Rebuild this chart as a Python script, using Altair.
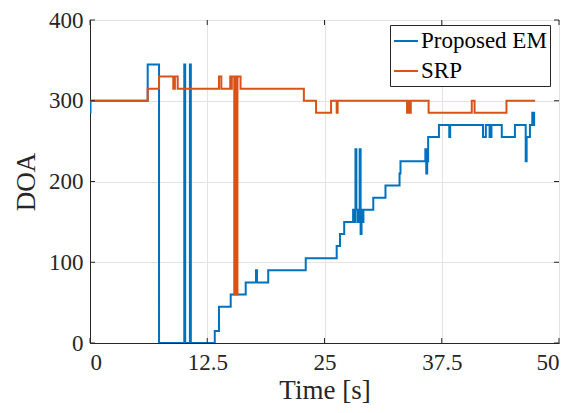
import altair as alt
import pandas as pd

series_names = ["Proposed EM", "SRP"]
series_colors = ["#0072BD", "#D95319"]

em_t = [0, 0.05, 6.15, 7.36, 10.05, 10.15, 10.65, 10.75, 13.3, 13.75, 15.0, 16.6, 17.7, 17.8,
        19.0, 23.0, 26.3, 26.65, 27.1, 28.05, 28.15, 28.3, 28.4, 28.55, 28.75, 28.85, 28.95,
        29.05, 29.15, 30.2, 31.5, 33.0, 33.1, 35.75, 35.85, 35.95, 36.05, 37.2, 38.3, 38.4,
        41.9, 42.2, 42.6, 42.8, 43.9, 45.3, 46.45, 46.55, 46.9, 47.15, 47.25, 47.35, 47.45]
em_v = [285, 300, 345, 0, 345, 0, 345, 0, 15, 45, 60, 75, 90, 75,
        90, 105, 120, 135, 150, 165, 150, 240, 165, 150, 240, 135, 165,
        150, 165, 180, 195, 210, 225, 240, 210, 225, 255, 270, 255, 270,
        255, 270, 255, 270, 255, 270, 225, 255, 270, 285, 270, 285, 285]

srp_t = [0, 6.15, 7.36, 8.88, 9.05, 9.35, 13.75, 14.0, 14.95, 15.05, 15.12, 15.38, 15.5,
         15.6, 15.72, 16.05, 22.8, 24.1, 25.7, 26.3, 26.4, 33.8, 33.9, 34.0, 34.2, 36.1,
         40.7, 41.0, 44.4, 47.45]
srp_v = [300, 315, 330, 315, 330, 315, 330, 315, 330, 315, 330, 60, 330,
         60, 330, 315, 300, 285, 300, 285, 300, 285, 300, 285, 300, 285,
         300, 285, 300, 300]

x_ticks = [0, 12.5, 25, 37.5, 50]
y_ticks = [0, 100, 200, 300, 400]

rows = []
for i, (t, v) in enumerate(zip(em_t, em_v)):
    rows.append({"t": t, "v": v, "s": series_names[0], "i": i})
for i, (t, v) in enumerate(zip(srp_t, srp_v)):
    rows.append({"t": t, "v": v, "s": series_names[1], "i": i})
df = pd.DataFrame(rows)

W, H = 469, 323
FONT = "Liberation Serif"
AX = "#262626"

xs = alt.Scale(domain=[0, 50], nice=False, zero=False)
ys = alt.Scale(domain=[0, 400], nice=False)

lines = alt.Chart(df).mark_line(interpolate="step-after", strokeWidth=2, clip=True).encode(
    x=alt.X("t:Q", scale=xs,
            axis=alt.Axis(values=x_ticks, title="Time [s]", format=".4~g", ticks=False,
                          labelPadding=8, titlePadding=3, gridColor="#e3e3e3")),
    y=alt.Y("v:Q", scale=ys,
            axis=alt.Axis(values=y_ticks, title="DOA", ticks=False,
                          labelPadding=7, titlePadding=8, gridColor="#e3e3e3")),
    color=alt.Color("s:N", scale=alt.Scale(domain=series_names, range=series_colors),
                    legend=alt.Legend(title=None, orient="none", legendX=300, legendY=5,
                                      symbolType="stroke", symbolSize=576, symbolStrokeWidth=2,
                                      labelFont=FONT, labelFontSize=23, labelColor="black",
                                      strokeColor=AX, fillColor="white", padding=3,
                                      rowPadding=5, labelOffset=2, cornerRadius=0,
                                      labelLimit=300)),
    order=alt.Order("i:Q"),
)

xt = pd.DataFrame({"t": x_ticks})
yt = pd.DataFrame({"v": y_ticks})
tick_style = dict(color=AX, strokeWidth=1)
xb = alt.Chart(xt).mark_rule(**tick_style).encode(x=alt.X("t:Q", scale=xs), y=alt.value(H), y2=alt.value(H - 5))
xtp = alt.Chart(xt).mark_rule(**tick_style).encode(x=alt.X("t:Q", scale=xs), y=alt.value(0), y2=alt.value(5))
yl = alt.Chart(yt).mark_rule(**tick_style).encode(y=alt.Y("v:Q", scale=ys), x=alt.value(0), x2=alt.value(5))
yr = alt.Chart(yt).mark_rule(**tick_style).encode(y=alt.Y("v:Q", scale=ys), x=alt.value(W), x2=alt.value(W - 5))

chart = alt.layer(lines, xb, xtp, yl, yr).properties(
    width=W, height=H,
    autosize=alt.AutoSizeParams(type="none"),
    padding={"left": 82, "top": 12, "right": 14, "bottom": 62},
    background="white",
).configure_view(stroke=AX, strokeWidth=1).configure_axis(
    domainColor=AX, labelColor=AX, titleColor=AX,
    labelFont=FONT, titleFont=FONT, labelFontSize=23, titleFontSize=27,
    titleFontWeight="normal", grid=True,
)

chart.save("out.html", embed_options={"renderer": "svg", "actions": False})
